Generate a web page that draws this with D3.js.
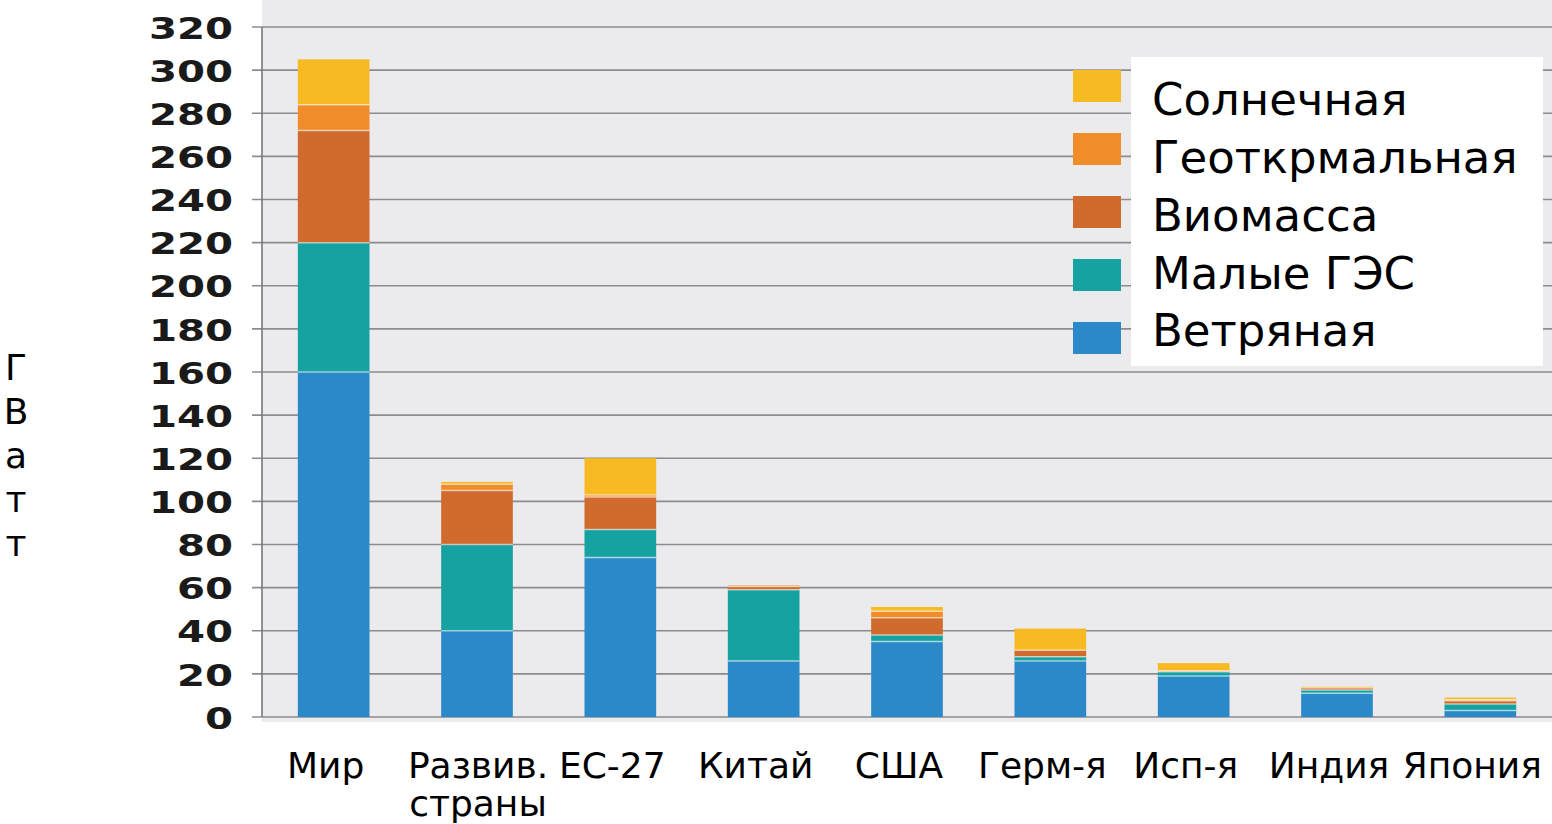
<!DOCTYPE html>
<html>
<head>
<meta charset="utf-8">
<script src="https://cdn.jsdelivr.net/npm/d3@7"></script>
<style>
  body { margin: 0; background: #fff; }
  svg { display: block; font-family: "DejaVu Sans", Verdana, sans-serif; }
</style>
</head>
<body>
<svg id="chart" width="1552" height="824"></svg>
<script>
// regions along x
var categories = ["Мир", "Развив.\nстраны", "ЕС-27", "Китай", "США", "Герм-я", "Исп-я", "Индия", "Япония"];

// GW per source
var wind  = [160, 40, 74, 26, 35, 26, 19, 11, 3];
var hydro = [60, 40, 13, 33, 3, 2, 2, 1.5, 3];
var bio   = [52, 25, 15, 1.5, 8, 3, 0.5, 1, 1.5];
var geo   = [12, 3, 1, 0.5, 3, 0, 0, 0, 0.5];
var solar = [21, 1, 17, 0, 2, 10, 3.5, 0.5, 1];

var seriesNames = ["Ветряная", "Малые ГЭС", "Виомасса", "Геоткрмальная", "Солнечная"];
var seriesColors = ["#2b89c9", "#17a2a2", "#d06a2d", "#f18c2a", "#f8ba22"];
var yTicks = [0, 20, 40, 60, 80, 100, 120, 140, 160, 180, 200, 220, 240, 260, 280, 300, 320];

(function () {
  var rows = categories.map(function (c, i) {
    return { cat: c, "Ветряная": wind[i], "Малые ГЭС": hydro[i], "Виомасса": bio[i], "Геоткрмальная": geo[i], "Солнечная": solar[i] };
  });

  var svg = d3.select("#chart");
  var plotLeft = 262, plotRight = 1552, plotTop = 27, plotBottom = 717;

  var x = d3.scaleBand().domain(categories).range([plotLeft, plotRight]).paddingInner(0.5).paddingOuter(0.25);
  var y = d3.scaleLinear().domain([0, 320]).range([plotBottom, plotTop]);
  var color = d3.scaleOrdinal().domain(seriesNames).range(seriesColors);

  // plot background
  svg.append("rect")
    .attr("x", plotLeft).attr("y", 0)
    .attr("width", plotRight - plotLeft).attr("height", plotBottom + 5)
    .attr("fill", "#ebebed");

  // grid lines
  svg.append("g")
    .selectAll("line")
    .data(yTicks)
    .enter().append("line")
    .attr("x1", plotLeft - 10).attr("x2", plotRight)
    .attr("y1", function (d) { return y(d); })
    .attr("y2", function (d) { return y(d); })
    .attr("stroke", "#8c8c90")
    .attr("stroke-width", 1.6);

  // y axis line
  svg.append("line")
    .attr("x1", plotLeft).attr("x2", plotLeft)
    .attr("y1", plotTop).attr("y2", plotBottom)
    .attr("stroke", "#77777c").attr("stroke-width", 1.6);

  // y labels (bold, stretched like the scan)
  var yAxis = d3.axisLeft(y).tickValues(yTicks).tickSize(0).tickPadding(0);
  var gy = svg.append("g").attr("transform", "translate(233,0)").call(yAxis);
  gy.select(".domain").remove();
  gy.selectAll("text")
    .attr("x", 0)
    .attr("dy", "0.36em")
    .attr("transform", "scale(1.3,1)")
    .style("font-family", "'DejaVu Sans', sans-serif")
    .style("font-weight", "bold")
    .style("font-size", "31px")
    .attr("fill", "#1a1a1a");

  // stacked bars
  var layers = d3.stack().keys(seriesNames)(rows);

  var groups = svg.append("g")
    .selectAll("g")
    .data(layers)
    .enter().append("g")
    .attr("fill", function (d) { return color(d.key); });

  groups.selectAll("rect")
    .data(function (d) { return d; })
    .enter().append("rect")
    .attr("x", function (d) { return x(d.data.cat); })
    .attr("width", x.bandwidth())
    .attr("y", function (d) { return y(d[1]); })
    .attr("height", function (d) { return y(d[0]) - y(d[1]); });

  // thin light seams between segments
  groups.filter(function (d, i) { return i > 0; })
    .selectAll("line")
    .data(function (d) { return d.filter(function (s) { return s[1] - s[0] > 0; }); })
    .enter().append("line")
    .attr("x1", function (d) { return x(d.data.cat); })
    .attr("x2", function (d) { return x(d.data.cat) + x.bandwidth(); })
    .attr("y1", function (d) { return y(d[0]); })
    .attr("y2", function (d) { return y(d[0]); })
    .attr("stroke", "#ffffff").attr("stroke-opacity", 0.55).attr("stroke-width", 1.5);

  // white strip under the axis, as in the picture
  svg.append("rect")
    .attr("x", 250).attr("y", plotBottom + 5)
    .attr("width", plotRight - 250).attr("height", 824 - plotBottom - 5)
    .attr("fill", "#ffffff");

  // x labels
  var xl = svg.append("g")
    .selectAll("text")
    .data(categories)
    .enter().append("text")
    .attr("text-anchor", "middle")
    .attr("font-size", 36)
    .attr("fill", "#000");

  xl.each(function (d) {
    var t = d3.select(this);
    var lines = d.split("\n");
    var cx = x(d) + x.bandwidth() / 2 - 8;
    if (lines.length > 1) cx += 9;
    lines.forEach(function (s, k) {
      t.append("tspan")
        .attr("x", cx)
        .attr("y", 778 + k * 38)
        .text(s);
    });
  });

  // y title, one letter per line
  svg.append("g")
    .selectAll("text")
    .data("ГВатт".split(""))
    .enter().append("text")
    .attr("x", 16)
    .attr("y", function (d, i) { return 380 + i * 44; })
    .attr("text-anchor", "middle")
    .attr("font-size", 36)
    .attr("fill", "#000")
    .text(function (d) { return d; });

  // legend
  var legendOrder = seriesNames.slice().reverse();
  svg.append("rect")
    .attr("x", 1131).attr("y", 57)
    .attr("width", 412).attr("height", 309)
    .attr("fill", "#ffffff");

  var lg = svg.append("g")
    .selectAll("g")
    .data(legendOrder)
    .enter().append("g");

  lg.append("rect")
    .attr("x", 1073)
    .attr("y", function (d, i) { return 70 + i * 63; })
    .attr("width", 48).attr("height", 32)
    .attr("fill", function (d) { return color(d); });

  lg.append("text")
    .attr("x", 1152)
    .attr("y", function (d, i) { return 99 + i * 57.8; })
    .attr("dy", "0.36em")
    .attr("font-size", 45)
    .attr("fill", "#000")
    .text(function (d) { return d; });
})();
</script>
</body>
</html>
